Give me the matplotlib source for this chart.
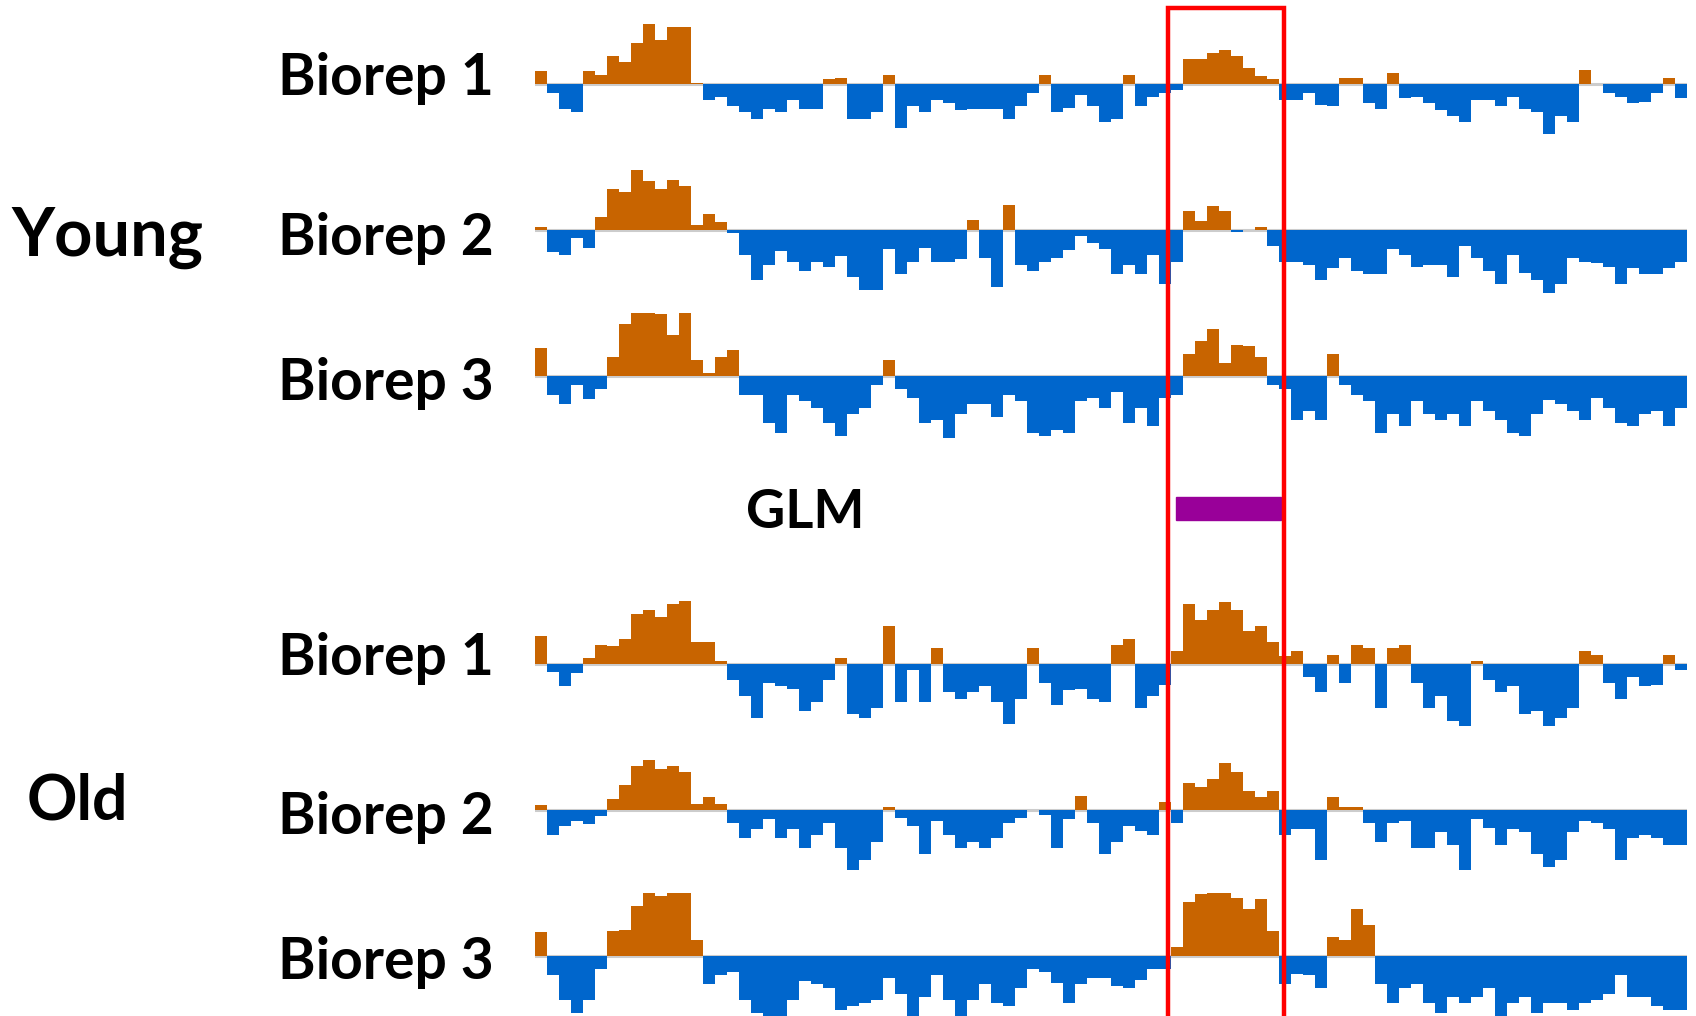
import matplotlib
matplotlib.use("Agg")
import matplotlib.pyplot as plt
from matplotlib.patches import Rectangle
import numpy as np

# coverage tracks, 96 bins each (orange = above, blue = below baseline)
young_1 = [2, -1.5, -4, -4.5, 2, 1.5, 4.5, 3.5, 6.5, 9.5, 7, 9, 9, 0.2, -2.5, -2, -3.5, -4.5, -5.5, -4,
           -4.5, -2.5, -4, -4, 0.8, 1, -5.5, -5.5, -4.5, 1.5, -7, -3.5, -4.4, -2.5, -3, -4.2, -4, -4, -4, -5.5,
           -3.5, -1.5, 1.5, -4.5, -3.8, -1.8, -3.5, -6,
           -5.5, 1.5, -3.5, -2, -1.5, -1, 4, 4, 5, 5.4, 4.5, 2.5, 1.2, 0.8, -2.5, -2.5, -1.5, -3.3, -3.5, 1,
           1, -3, -4, 1.8, -2.3, -2, -3, -4.2, -5, -6, -2.5, -2.5, -3.5, -2, -4, -4.5, -8, -5, -6, 2.2,
           0, -1.5, -2, -3, -2.8, -1.5, 1, -2.2]
young_2 = [0.5, -3.5, -4, -1.2, -2.8, 2, 6.5, 6, 9.5, 7.8, 6.5, 8, 7, 0.8, 2.5, 1.2, -0.4, -4, -8, -5.5,
           -3.3, -5, -6.5, -5, -5.8, -4.2, -7.5, -9.5, -9.5, -3, -7, -5, -2.9, -5, -5, -4.6, 1.6, -4.5, -9, 4,
           -5.5, -6.5, -5, -4.5, -3.2, -1, -2, -3,
           -7, -5.5, -7, -4, -8.5, -5, 3, 1.4, 3.8, 3, -0.3, 0, 0.5, -2.5, -5, -5, -5.5, -8, -6, -4.5,
           -6.5, -7, -7, -3, -4, -5.8, -5.5, -5.5, -7.5, -2.5, -4.5, -6.5, -8.5, -4, -6.8, -8, -10, -8.5, -4.5, -5,
           -5.3, -5.8, -8.5, -6, -7, -7, -6, -5]
young_3 = [4.5, -3, -4.5, -1.5, -3.7, -2, 3, 8.2, 10, 10, 9.8, 6.5, 10, 2.5, 0.4, 3, 4.2, -3, -3, -7.5,
           -9, -3, -4, -5, -7.5, -9.5, -6, -5, -1.5, 2.5, -2, -3.5, -7.5, -7, -9.8, -6, -4.5, -4.5, -6.5, -3,
           -4, -9, -9.5, -8.5, -9, -4, -3.5, -5,
           -2.5, -7.5, -5, -8, -3.5, -3, 3.5, 5.5, 7.5, 2, 5, 4.8, 3, -1.5, -2, -7, -5.5, -7, 3.5, -1.5,
           -3, -4, -9, -6, -8, -4, -6, -7, -6, -8, -4, -5.5, -7, -9, -9.5, -6, -3.8, -4.5, -5.5, -7,
           -3.5, -5, -7.5, -8, -6, -5.5, -8, -5]
old_1 = [4.5, -1.3, -3.5, -1.5, 1, 3, 2.8, 4, 8, 8.5, 7.5, 9.5, 10, 3.5, 3.5, 0.5, -2.5, -5, -8.5, -3,
         -3.5, -4, -7.5, -6, -2.5, 1, -8, -8.5, -7, 6, -6, -1, -6, 2.5, -4.5, -5.5, -4.5, -3.5, -6, -9.5,
         -5.5, 2.5, -3, -6.5, -4.2, -4, -5.5, -6,
         3, 4, -7, -5, -3.3, 2, 9.5, 7, 8.5, 9.8, 8.5, 5.2, 6, 3.5, 1.3, 2, -2, -4.5, 1.5, -3,
         3, 2.5, -7, 2.5, 3, -3, -7, -5, -9, -9.8, 0.5, -2.5, -4.5, -3.5, -8, -7.5, -9.8, -8.5, -7, 2,
         1.5, -3, -5.5, -2, -3.5, -3.3, 1.5, -1]
old_2 = [0.8, -4, -2.5, -1.8, -2.2, -1, 1.8, 4, 7, 8, 6.5, 7, 6, 1, 2, 1, -2, -4.5, -3, -1.5,
         -4.5, -3, -6, -4, -2, -6, -9.5, -8, -5, 0.5, -1.3, -2.5, -7, -1.8, -4, -6, -5, -6, -4.5, -2,
         -1.2, 0, -0.8, -6, -1.5, 2.3, -2, -7,
         -5, -2.5, -3.3, -4, 1.2, -2, 4.3, 3.6, 5, 7.5, 6, 3, 2, 3, -4, -3, -3, -8, 2, 0.5,
         0.5, -2, -5, -2, -1.8, -6, -6, -3.5, -5.5, -9.5, -1.5, -2.8, -5.5, -3, -3.5, -7, -9, -8, -3.5, -1.8,
         -2, -3, -8, -4.5, -4, -4.5, -5.5, -5.5]
old_3 = [3.8, -3, -7, -9, -7, -2, 4, 4.2, 8, 10, 9.5, 10, 10, 2.5, -4.5, -3, -2.5, -7, -9, -9.8,
         -9.8, -7, -4, -4.5, -5, -8.5, -8, -7.5, -7, -3.5, -6, -9.5, -6.5, -3, -7, -9.5, -7, -4.5, -7.5, -8,
         -5, -2, -2.5, -4.3, -7.5, -4.5, -3.5, -3.5,
         -4.8, -5, -3.8, -2, -2, 1.5, 8.5, 9.8, 10, 10, 9.2, 7.5, 9, 4, -4.5, -2.8, -3, -5, 3, 2.5,
         7.5, 5, -4.5, -7.5, -5, -4.5, -7.5, -9, -6.5, -7.5, -6.5, -5, -9.5, -7.5, -6.5, -9, -7.5, -7.5, -8.5, -7.5,
         -7, -6, -3, -6.5, -6.5, -8, -8.5, -8.5]

tracks = [young_1, young_2, young_3, old_1, old_2, old_3]
labels = ["Biorep 1", "Biorep 2", "Biorep 3", "Biorep 1", "Biorep 2", "Biorep 3"]

W, H = 1696, 1016
ORANGE = "#c86400"
BLUE = "#0066cc"
FONT = ["Lato", "DejaVu Sans"]

fig = plt.figure(figsize=(W / 100, H / 100), dpi=100)
fig.patch.set_facecolor("white")

baselines = [84, 230, 376, 664, 810, 956]   # px from top
label_y = [95, 255, 400, 675, 834, 979]
amp = 63                                      # px for value 10
x0, x1 = 535, 1687

for vals, b, lab, ly in zip(tracks, baselines, labels, label_y):
    ax = fig.add_axes([x0 / W, (H - b - amp) / H, (x1 - x0) / W, 2 * amp / H])
    vals = np.array(vals)
    xs = np.arange(len(vals)) + 0.5
    cols = [ORANGE if v > 0 else BLUE for v in vals]
    ax.axhline(0, color="#cccccc", lw=2.2, zorder=0)
    ax.bar(xs, vals, width=1.0, color=cols, linewidth=0, zorder=1)
    ax.set_xlim(0, len(vals))
    ax.set_ylim(-10, 10)
    ax.axis("off")
    fig.text(494 / W, 1 - ly / H, lab, ha="right", va="baseline",
             fontsize=41, fontweight="bold", family=FONT)

fig.text(11 / W, 1 - 256 / H, "Young", ha="left", va="baseline",
         fontsize=48, fontweight="bold", family=FONT)
fig.text(27 / W, 1 - 819 / H, "Old", ha="left", va="baseline",
         fontsize=45, fontweight="bold", family=FONT)
fig.text(746 / W, 1 - 528 / H, "GLM", ha="left", va="baseline",
         fontsize=39, fontweight="bold", family=FONT)

# GLM call and highlight box
fig.patches.append(Rectangle((1176 / W, 1 - 520 / H), 105 / W, 23 / H,
                             transform=fig.transFigure, color="#990099", zorder=5))
fig.patches.append(Rectangle((1168 / W, -0.02), 116 / W, 1 - 8 / H + 0.02,
                             transform=fig.transFigure, fill=False,
                             edgecolor="#ff0000", linewidth=3.2, zorder=10))

fig.savefig("out.png", dpi=100)
